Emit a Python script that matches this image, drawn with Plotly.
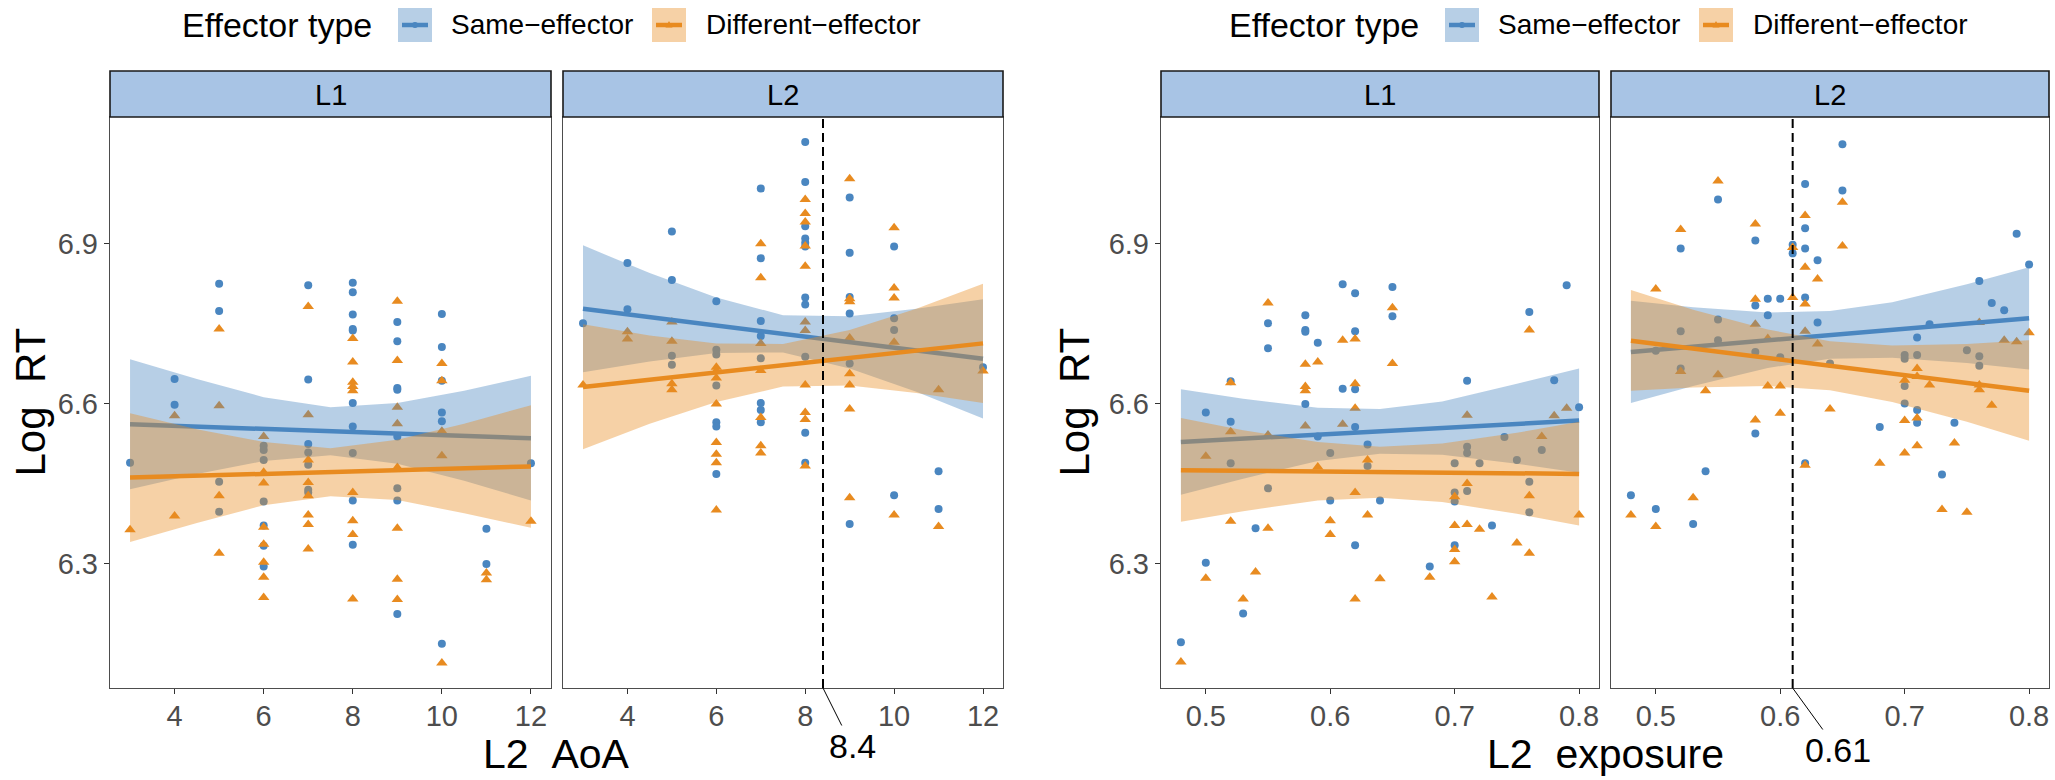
import plotly.graph_objects as go

# values (Log RT against L2 AoA / L2 exposure, split by L1/L2 target)

# ---- L2 AoA, L1 panel ----
aoa_l1_same_x = [3, 4, 4, 5, 5, 5, 5, 6, 6, 6, 6, 6, 6, 6, 7, 7, 7, 7, 7, 7, 7,
                 8, 8, 8, 8, 8, 8, 8, 8, 8, 8, 9, 9, 9, 9, 9, 9, 9, 9,
                 10, 10, 10, 10, 10, 10, 11, 11, 12]
aoa_l1_same_y = [6.489, 6.646, 6.598, 6.825, 6.774, 6.453, 6.397,
                 6.521, 6.513, 6.494, 6.416, 6.371, 6.333, 6.294,
                 6.822, 6.645, 6.524, 6.508, 6.485, 6.438, 6.433,
                 6.827, 6.809, 6.767, 6.740, 6.737, 6.601, 6.557, 6.507, 6.418, 6.335,
                 6.753, 6.717, 6.629, 6.626, 6.538, 6.441, 6.418, 6.205,
                 6.768, 6.706, 6.643, 6.583, 6.567, 6.149, 6.365, 6.299, 6.488]
aoa_l1_diff_x = [3, 4, 4, 5, 5, 5, 5, 6, 6, 6, 6, 6, 6, 6, 6, 7, 7, 7, 7, 7, 7, 7, 7,
                 8, 8, 8, 8, 8, 8, 8, 8, 8, 9, 9, 9, 9, 9, 9, 9, 9,
                 10, 10, 10, 10, 10, 11, 11, 12]
aoa_l1_diff_y = [6.363, 6.577, 6.389, 6.740, 6.596, 6.427, 6.319,
                 6.538, 6.471, 6.451, 6.368, 6.336, 6.302, 6.274, 6.236,
                 6.782, 6.579, 6.494, 6.452, 6.427, 6.391, 6.373, 6.327,
                 6.722, 6.678, 6.640, 6.632, 6.624, 6.433, 6.380, 6.354, 6.233,
                 6.792, 6.681, 6.593, 6.562, 6.480, 6.366, 6.270, 6.232,
                 6.675, 6.643, 6.548, 6.502, 6.113, 6.282, 6.269, 6.379]

# ---- L2 AoA, L2 panel ----
aoa_l2_same_x = [3, 4, 4, 5, 5, 5, 5, 6, 6, 6, 6, 6, 6, 6, 7, 7, 7, 7, 7, 7, 7, 7,
                 8, 8, 8, 8, 8, 8, 8, 8, 8, 8, 8, 9, 9, 9, 9, 9, 9,
                 10, 10, 10, 10, 11, 11, 12]
aoa_l2_same_y = [6.751, 6.864, 6.777, 6.923, 6.832, 6.690, 6.673,
                 6.792, 6.701, 6.692, 6.634, 6.565, 6.557, 6.468,
                 7.004, 6.873, 6.755, 6.727, 6.685, 6.601, 6.588, 6.565,
                 7.091, 7.016, 6.933, 6.910, 6.902, 6.895, 6.799, 6.786, 6.688, 6.545, 6.489,
                 6.987, 6.883, 6.800, 6.769, 6.675, 6.374,
                 6.895, 6.760, 6.738, 6.428, 6.473, 6.402, 6.668]
aoa_l2_diff_x = [3, 4, 4, 5, 5, 5, 5, 6, 6, 6, 6, 6, 6, 6, 6, 7, 7, 7, 7, 7, 7, 7,
                 8, 8, 8, 8, 8, 8, 8, 8, 8, 8, 8, 9, 9, 9, 9, 9, 9, 9, 9,
                 10, 10, 10, 10, 10, 11, 11, 12]
aoa_l2_diff_y = [6.635, 6.735, 6.721, 6.753, 6.717, 6.637, 6.626,
                 6.668, 6.661, 6.648, 6.599, 6.527, 6.505, 6.489, 6.400,
                 6.900, 6.836, 6.713, 6.662, 6.574, 6.521, 6.507,
                 6.983, 6.957, 6.941, 6.896, 6.858, 6.753, 6.737, 6.635, 6.583, 6.570, 6.483,
                 7.022, 6.797, 6.791, 6.723, 6.656, 6.635, 6.590, 6.423,
                 6.930, 6.817, 6.798, 6.715, 6.391, 6.626, 6.369, 6.661]

# ---- L2 exposure, L1 panel ----
exp_l1_same_x = [0.48, 0.50, 0.50, 0.52, 0.52, 0.52, 0.53, 0.54, 0.55, 0.55, 0.55,
                 0.58, 0.58, 0.58, 0.58, 0.59, 0.59, 0.60, 0.60, 0.61, 0.61,
                 0.62, 0.62, 0.62, 0.62, 0.62, 0.63, 0.63, 0.64, 0.65, 0.65, 0.68,
                 0.70, 0.70, 0.70, 0.70, 0.71, 0.71, 0.71, 0.71, 0.72, 0.73, 0.74, 0.75,
                 0.76, 0.76, 0.76, 0.77, 0.78, 0.79, 0.80]
exp_l1_same_y = [6.152, 6.583, 6.301, 6.642, 6.566, 6.488, 6.206, 6.366, 6.751, 6.704, 6.441,
                 6.766, 6.738, 6.735, 6.599, 6.714, 6.538, 6.507, 6.418, 6.824, 6.628,
                 6.807, 6.736, 6.627, 6.556, 6.334, 6.523, 6.483, 6.418, 6.819, 6.764, 6.294,
                 6.488, 6.433, 6.416, 6.334, 6.643, 6.519, 6.507, 6.436, 6.488, 6.371, 6.537, 6.494,
                 6.772, 6.453, 6.396, 6.513, 6.644, 6.822, 6.593]
exp_l1_diff_x = [0.48, 0.50, 0.50, 0.52, 0.52, 0.52, 0.53, 0.54, 0.55, 0.55, 0.55,
                 0.58, 0.58, 0.58, 0.58, 0.59, 0.59, 0.60, 0.60, 0.61, 0.61,
                 0.62, 0.62, 0.62, 0.62, 0.62, 0.63, 0.63, 0.64, 0.65, 0.65, 0.68,
                 0.70, 0.70, 0.70, 0.70, 0.71, 0.71, 0.71, 0.72, 0.73, 0.75,
                 0.76, 0.76, 0.76, 0.77, 0.78, 0.79, 0.80]
exp_l1_diff_y = [6.115, 6.501, 6.272, 6.639, 6.547, 6.379, 6.233, 6.284, 6.789, 6.541, 6.366,
                 6.674, 6.632, 6.624, 6.558, 6.678, 6.481, 6.380, 6.354, 6.719, 6.561,
                 6.721, 6.637, 6.591, 6.433, 6.233, 6.494, 6.391, 6.271, 6.780, 6.675, 6.274,
                 6.425, 6.371, 6.326, 6.303, 6.578, 6.450, 6.373, 6.364, 6.237, 6.338,
                 6.738, 6.427, 6.319, 6.538, 6.577, 6.591, 6.391]

# ---- L2 exposure, L2 panel ----
exp_l2_same_x = [0.48, 0.50, 0.50, 0.52, 0.52, 0.52, 0.53, 0.54, 0.55, 0.55, 0.55,
                 0.58, 0.58, 0.58, 0.58, 0.59, 0.59, 0.60, 0.60, 0.61, 0.61,
                 0.62, 0.62, 0.62, 0.62, 0.62, 0.63, 0.63, 0.64, 0.65, 0.65, 0.68,
                 0.70, 0.70, 0.70, 0.70, 0.71, 0.71, 0.71, 0.71, 0.72, 0.73, 0.74, 0.75,
                 0.76, 0.76, 0.76, 0.77, 0.78, 0.79, 0.80]
exp_l2_same_y = [6.428, 6.699, 6.402, 6.891, 6.736, 6.666, 6.374, 6.473, 6.983, 6.758, 6.719,
                 6.906, 6.784, 6.697, 6.544, 6.797, 6.766, 6.797, 6.687, 6.898, 6.882,
                 7.012, 6.929, 6.891, 6.799, 6.488, 6.869, 6.752, 6.675, 7.087, 7.000, 6.556,
                 6.691, 6.684, 6.633, 6.600, 6.724, 6.691, 6.588, 6.564, 6.749, 6.467, 6.564, 6.700,
                 6.830, 6.689, 6.671, 6.789, 6.775, 6.919, 6.861]
exp_l2_diff_x = [0.48, 0.50, 0.50, 0.52, 0.52, 0.53, 0.54, 0.55, 0.55,
                 0.58, 0.58, 0.58, 0.58, 0.59, 0.59, 0.60, 0.60, 0.61, 0.61,
                 0.62, 0.62, 0.62, 0.62, 0.62, 0.63, 0.63, 0.64, 0.65, 0.65, 0.68,
                 0.70, 0.70, 0.70, 0.71, 0.71, 0.71, 0.71, 0.72, 0.73, 0.74, 0.75,
                 0.76, 0.76, 0.76, 0.77, 0.78, 0.79, 0.80]
exp_l2_diff_y = [6.391, 6.815, 6.369, 6.927, 6.660, 6.423, 6.624, 7.018, 6.654,
                 6.937, 6.796, 6.749, 6.569, 6.722, 6.633, 6.633, 6.582, 6.893, 6.799,
                 6.953, 6.856, 6.787, 6.736, 6.484, 6.834, 6.712, 6.590, 6.978, 6.896, 6.488,
                 6.644, 6.568, 6.507, 6.666, 6.651, 6.573, 6.521, 6.635, 6.401, 6.526, 6.396,
                 6.752, 6.635, 6.626, 6.597, 6.719, 6.716, 6.733]

# fitted lines (end points) and 95% bands read at a few x positions
aoa_fit_x = [3, 12]
aoa_band_x = [3, 4.5, 6, 7.5, 9, 10.5, 12]
aoa_l1_same_fit = [6.561, 6.535]
aoa_l1_diff_fit = [6.461, 6.482]
aoa_l1_same_hi = [6.683, 6.646, 6.612, 6.593, 6.601, 6.624, 6.652]
aoa_l1_same_lo = [6.439, 6.468, 6.492, 6.503, 6.487, 6.455, 6.418]
aoa_l1_diff_hi = [6.582, 6.552, 6.528, 6.516, 6.532, 6.562, 6.597]
aoa_l1_diff_lo = [6.340, 6.376, 6.409, 6.426, 6.419, 6.394, 6.367]
aoa_l2_same_fit = [6.778, 6.684]
aoa_l2_diff_fit = [6.631, 6.713]
aoa_l2_same_hi = [6.897, 6.845, 6.799, 6.766, 6.764, 6.778, 6.796]
aoa_l2_same_lo = [6.659, 6.679, 6.695, 6.696, 6.666, 6.622, 6.572]
aoa_l2_diff_hi = [6.749, 6.728, 6.713, 6.712, 6.738, 6.778, 6.825]
aoa_l2_diff_lo = [6.514, 6.562, 6.603, 6.632, 6.634, 6.620, 6.601]

exp_fit_x = [0.48, 0.80]
exp_band_x = [0.48, 0.53, 0.59, 0.64, 0.69, 0.75, 0.80]
exp_l1_same_fit = [6.528, 6.568]
exp_l1_diff_fit = [6.475, 6.468]
exp_l1_same_hi = [6.627, 6.609, 6.592, 6.590, 6.604, 6.637, 6.666]
exp_l1_same_lo = [6.429, 6.459, 6.492, 6.506, 6.504, 6.487, 6.470]
exp_l1_diff_hi = [6.573, 6.550, 6.528, 6.519, 6.525, 6.545, 6.566]
exp_l1_diff_lo = [6.378, 6.398, 6.418, 6.423, 6.415, 6.393, 6.371]
exp_l2_same_fit = [6.697, 6.760]
exp_l2_diff_fit = [6.718, 6.624]
exp_l2_same_hi = [6.793, 6.781, 6.771, 6.774, 6.790, 6.824, 6.856]
exp_l2_same_lo = [6.601, 6.633, 6.667, 6.684, 6.686, 6.676, 6.664]
exp_l2_diff_hi = [6.813, 6.776, 6.739, 6.717, 6.709, 6.712, 6.719]
exp_l2_diff_lo = [6.624, 6.630, 6.633, 6.625, 6.603, 6.566, 6.530]

aoa_cutoff = 8.4
exp_cutoff = 0.61

aoa_ticks = [4, 6, 8, 10, 12]
exp_ticks = [0.5, 0.6, 0.7, 0.8]
rt_ticks = [6.3, 6.6, 6.9]
strip_labels = ['L1', 'L2', 'L1', 'L2']
group_labels = ['Same\u2212effector', 'Different\u2212effector']

W, H = 2055, 780
BLUE = '#4A86C0'
ORANGE = '#E88B20'
BLUE_FILL = 'rgba(74,134,192,0.4)'
ORANGE_FILL = 'rgba(232,139,32,0.4)'
FONT = 'Liberation Sans, Arial, sans-serif'

# panel edges in pixels (left, right); top/bottom shared
panels = [(110, 551), (563, 1003), (1161, 1599), (1611, 2049)]
PANEL_TOP, PANEL_BOT = 117, 688
STRIP_TOP = 71


def fx(p):
    return p / W


def fy(p):
    return 1 - p / H


fig = go.Figure()


def add_panel(n, sx, sy, dx, dy, band_x, s_hi, s_lo, d_hi, d_lo, fit_x, s_fit, d_fit):
    xa = 'x' if n == 1 else 'x%d' % n
    ya = 'y' if n == 1 else 'y%d' % n
    common = dict(xaxis=xa, yaxis=ya, showlegend=False, hoverinfo='skip')
    fig.add_trace(go.Scatter(x=sx, y=sy, mode='markers',
                             marker=dict(symbol='circle', size=8, color=BLUE), **common))
    fig.add_trace(go.Scatter(x=dx, y=dy, mode='markers',
                             marker=dict(symbol='triangle-up', size=10, color=ORANGE), **common))
    # ribbons drawn over the points, like geom_smooth
    for hi, lo, fit, fill, col in [(s_hi, s_lo, s_fit, BLUE_FILL, BLUE),
                                   (d_hi, d_lo, d_fit, ORANGE_FILL, ORANGE)]:
        fig.add_trace(go.Scatter(x=list(band_x) + list(band_x)[::-1],
                                 y=list(hi) + list(lo)[::-1],
                                 mode='lines', fill='toself', fillcolor=fill,
                                 line=dict(width=0, color='rgba(0,0,0,0)'), **common))
        fig.add_trace(go.Scatter(x=fit_x, y=fit, mode='lines',
                                 line=dict(color=col, width=4.5), **common))


add_panel(1, aoa_l1_same_x, aoa_l1_same_y, aoa_l1_diff_x, aoa_l1_diff_y, aoa_band_x,
          aoa_l1_same_hi, aoa_l1_same_lo, aoa_l1_diff_hi, aoa_l1_diff_lo,
          aoa_fit_x, aoa_l1_same_fit, aoa_l1_diff_fit)
add_panel(2, aoa_l2_same_x, aoa_l2_same_y, aoa_l2_diff_x, aoa_l2_diff_y, aoa_band_x,
          aoa_l2_same_hi, aoa_l2_same_lo, aoa_l2_diff_hi, aoa_l2_diff_lo,
          aoa_fit_x, aoa_l2_same_fit, aoa_l2_diff_fit)
add_panel(3, exp_l1_same_x, exp_l1_same_y, exp_l1_diff_x, exp_l1_diff_y, exp_band_x,
          exp_l1_same_hi, exp_l1_same_lo, exp_l1_diff_hi, exp_l1_diff_lo,
          exp_fit_x, exp_l1_same_fit, exp_l1_diff_fit)
add_panel(4, exp_l2_same_x, exp_l2_same_y, exp_l2_diff_x, exp_l2_diff_y, exp_band_x,
          exp_l2_same_hi, exp_l2_same_lo, exp_l2_diff_hi, exp_l2_diff_lo,
          exp_fit_x, exp_l2_same_fit, exp_l2_diff_fit)

axis_style = dict(showgrid=False, zeroline=False, showline=True, linecolor='#4D4D4D',
                  linewidth=1.4, mirror=True, ticks='outside', ticklen=5, tickwidth=1.4,
                  tickcolor='#333333', tickfont=dict(size=29, color='#4D4D4D', family=FONT))

layout = {}
for i, (x0, x1) in enumerate(panels):
    n = i + 1
    s = '' if n == 1 else str(n)
    is_aoa = n <= 2
    layout['xaxis' + s] = dict(axis_style, domain=[fx(x0), fx(x1)], anchor='y' + s,
                               range=[2.55, 12.45] if is_aoa else [0.464, 0.816],
                               tickvals=aoa_ticks if is_aoa else exp_ticks,
                               ticklabelstandoff=-3)
    show_y = n in (1, 3)
    layout['yaxis' + s] = dict(axis_style, domain=[fy(PANEL_BOT), fy(PANEL_TOP)],
                               anchor='x' + s, range=[6.066, 7.138], tickvals=rt_ticks,
                               showticklabels=show_y, ticks='outside' if show_y else '',
                               ticklabelstandoff=0)
fig.update_layout(**layout)

shapes = []
annotations = []


def label(text, cx, cy, size, **kw):
    d = dict(text=text, xref='paper', yref='paper', x=fx(cx), y=fy(cy), showarrow=False,
             xanchor='center', yanchor='middle',
             font=dict(size=size, color='black', family=FONT))
    d.update(kw)
    annotations.append(d)


# facet strips
for (x0, x1), lab in zip(panels, strip_labels):
    shapes.append(dict(type='rect', xref='paper', yref='paper', x0=fx(x0), x1=fx(x1),
                       y0=fy(PANEL_TOP), y1=fy(STRIP_TOP), fillcolor='#A8C4E5',
                       line=dict(color='#1A1A1A', width=1.6), layer='above'))
    label(lab, (x0 + x1) / 2, (PANEL_TOP + STRIP_TOP) / 2 + 1, 29)

# cut-off lines and their labels
for xa, ya, val, txt, ax, ay in [('x2', 'y2', aoa_cutoff, '8.4', 29, 58),
                                 ('x4', 'y4', exp_cutoff, '0.61', 45, 62)]:
    shapes.append(dict(type='line', xref=xa, yref=ya + ' domain', x0=val, x1=val, y0=0, y1=1,
                       line=dict(color='black', width=2, dash='9px,5px')))
    annotations.append(dict(text=txt, xref=xa, yref=ya + ' domain', x=val, y=0,
                            showarrow=True, arrowhead=0, arrowwidth=1, arrowcolor='black',
                            ax=ax, ay=ay, font=dict(size=34, color='black', family=FONT)))

# axis titles
label('L2\u00a0\u00a0AoA', 556, 754, 41)
label('L2\u00a0\u00a0exposure', 1605, 754, 41)
for cx in [30, 1074]:
    label('Log\u00a0\u00a0RT', cx, (PANEL_TOP + PANEL_BOT) / 2, 42, textangle=-90)


# hand-built ggplot style legend above each figure
def add_legend(x0):
    yc = 25
    label('Effector type', x0, yc, 34, xanchor='left')
    for k, (off, toff, fill, col, lab) in enumerate([(218, 269, BLUE_FILL, BLUE, group_labels[0]),
                                                     (472, 524, ORANGE_FILL, ORANGE, group_labels[1])]):
        kx0, kx1 = x0 + off, x0 + off + 34
        shapes.append(dict(type='rect', xref='paper', yref='paper', x0=fx(kx0), x1=fx(kx1),
                           y0=fy(yc + 17), y1=fy(yc - 17), fillcolor=fill,
                           line=dict(width=0)))
        shapes.append(dict(type='line', xref='paper', yref='paper', x0=fx(kx0 + 4),
                           x1=fx(kx1 - 4), y0=fy(yc), y1=fy(yc),
                           line=dict(color=col, width=4.5)))
        mx = (kx0 + kx1) / 2
        if k == 0:
            shapes.append(dict(type='circle', xref='paper', yref='paper', x0=fx(mx - 3),
                               x1=fx(mx + 3), y0=fy(yc + 3), y1=fy(yc - 3),
                               fillcolor=col, line=dict(width=0)))
        else:
            path = 'M %f,%f L %f,%f L %f,%f Z' % (fx(mx - 3.5), fy(yc + 2.5), fx(mx + 3.5),
                                                 fy(yc + 2.5), fx(mx), fy(yc - 4))
            shapes.append(dict(type='path', xref='paper', yref='paper', path=path,
                               fillcolor=col, line=dict(width=0)))
        label(lab, x0 + toff, yc, 28, xanchor='left')


add_legend(180)
add_legend(1227)

fig.update_layout(width=W, height=H, margin=dict(l=0, r=0, t=0, b=0),
                  paper_bgcolor='white', plot_bgcolor='white',
                  font=dict(family=FONT), shapes=shapes, annotations=annotations)

# page body has a default 8px margin; drop it so the figure fills the window exactly
fig.write_html('out.html', config={'displayModeBar': False},
               post_script="document.body.style.margin='0px';document.body.style.overflow='hidden';")
